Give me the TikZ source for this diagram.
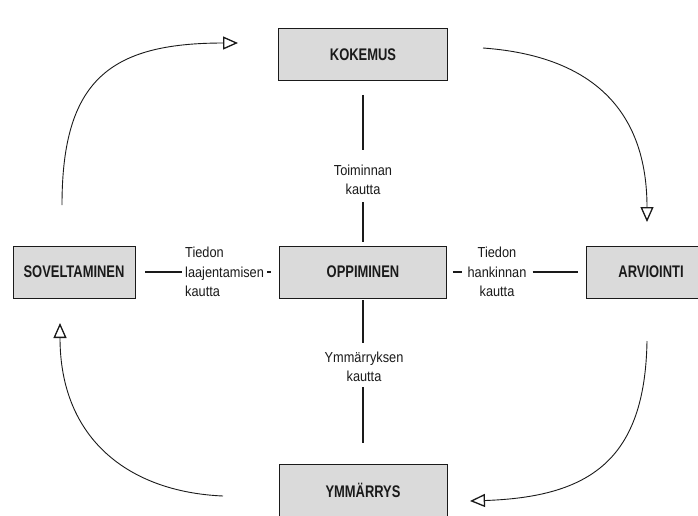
\documentclass[tikz,border=0pt]{standalone}
\usepackage{fontspec}
\setmainfont{Liberation Sans}[FakeStretch=0.88]
\newfontfamily\boxfont{Liberation Sans}[FakeStretch=0.77]
\usepackage{tikz}
\usetikzlibrary{arrows.meta}
\definecolor{boxgray}{HTML}{DADADA}
\definecolor{ink}{HTML}{1A1A1A}
\tikzset{
  stage/.style={draw=ink, fill=boxgray, line width=0.9pt, minimum height=52pt,
    inner sep=0pt, font=\boxfont\bfseries\fontsize{16.8}{18}\selectfont, text=ink},
  via/.style={inner sep=0pt, align=center, font=\fontsize{14.5}{19.5}\selectfont, text=ink},
  joinline/.style={draw=ink, line width=1.1pt},
  roundarrow/.style={draw=ink, line width=0.9pt,
    -{Triangle[open, length=15pt, width=13pt, line width=1.3pt]}},
}

\begin{document}
\begin{tikzpicture}[x=1pt, y=-1pt]
\clip (0,0) rectangle (698,515);
\fill[white] (0,0) rectangle (698,515);
\node[stage, minimum width=169pt] (kokemus) at (363,54.5) {KOKEMUS};
\node[stage, minimum width=122pt] (soveltaminen) at (74,272) {SOVELTAMINEN};
\node[stage, minimum width=167pt] (oppiminen) at (363,272) {OPPIMINEN};
\node[stage, minimum width=130pt] (arviointi) at (651,272) {ARVIOINTI};
\node[stage, minimum width=168pt] (ymmarrys) at (363,490) {YMMÄRRYS};

\node[via] (toiminta) at (363,180) {Toiminnan\\kautta};
\node[via] (ymmarrysvia) at (364,367) {Ymmärryksen\\kautta};
\node[via, align=left, anchor=west] (laajennus) at (185,272) {Tiedon\\laajentamisen\\kautta};
\node[via] (hankinta) at (497,272) {Tiedon\\hankinnan\\kautta};

\draw[joinline, shorten <=14pt, shorten >=15pt] (kokemus.south) -- (toiminta.north);
\draw[joinline, shorten <=7pt, shorten >=4pt] (toiminta.south) -- (oppiminen.north);
\draw[joinline, shorten <=2pt, shorten >=9pt] (oppiminen.south) -- (ymmarrysvia.north -| oppiminen.south);
\draw[joinline, shorten <=5pt, shorten >=21pt] (ymmarrysvia.south -| ymmarrys.north) -- (ymmarrys.north);
\draw[joinline, shorten <=10pt, shorten >=3pt] (soveltaminen.east) -- (laajennus.west);
\draw[joinline, shorten <=3pt, shorten >=8pt] (laajennus.east) -- (oppiminen.west);
\draw[joinline, shorten <=6pt, shorten >=5pt] (oppiminen.east) -- (hankinta.west);
\draw[joinline, shorten <=6pt, shorten >=8pt] (hankinta.east) -- (arviointi.west);

\coordinate (sovOut) at (62,205);
\coordinate (kokIn) at (238,43);
\coordinate (kokOut) at (483,48);
\coordinate (arvIn) at (647,222);
\coordinate (arvOut) at (647,341);
\coordinate (ymmIn) at (470,501);
\coordinate (ymmOut) at (223,496);
\coordinate (sovIn) at (60,323);
\draw[roundarrow] (sovOut) .. controls (62,80) and (110,43) .. (kokIn);
\draw[roundarrow] (kokOut) .. controls (580,55) and (647,100) .. (arvIn);
\draw[roundarrow] (arvOut) .. controls (645,460) and (590,497) .. (ymmIn);
\draw[roundarrow] (ymmOut) .. controls (130,492) and (60,440) .. (sovIn);
\end{tikzpicture}
\end{document}
